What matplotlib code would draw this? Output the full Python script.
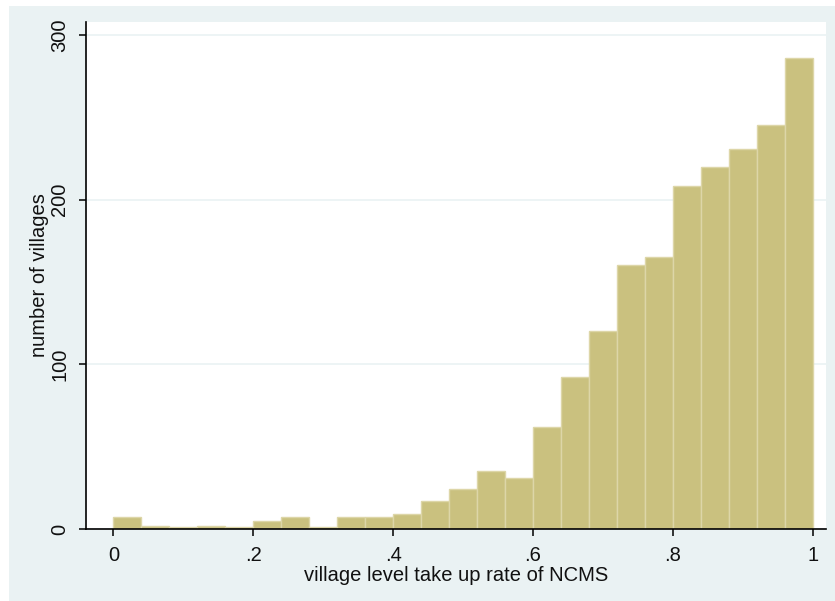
import matplotlib
matplotlib.use("Agg")
import matplotlib.pyplot as plt
from matplotlib.patches import Rectangle
import numpy as np

plt.rcParams['font.family'] = ['Liberation Sans', 'DejaVu Sans']

bin_edges = [i * 0.04 for i in range(26)]
counts = [7, 2, 1, 2, 1, 5, 7, 1, 7, 7, 9, 17, 24, 35, 31, 62, 92, 120,
          160, 165, 208, 220, 231, 245, 286]
yticks = [0, 100, 200, 300]
xticks = [0, 0.2, 0.4, 0.6, 0.8, 1.0]
xticklabels = ['0', '.2', '.4', '.6', '.8', '1']
xlabel = 'village level take up rate of NCMS'
ylabel = 'number of villages'

W, H = 835, 601
fig = plt.figure(figsize=(W / 100, H / 100), dpi=100)
fig.patch.set_facecolor('white')
fig.patches.append(Rectangle((9 / W, 0), 1 - 9 / W, 1 - 6 / H,
                             transform=fig.transFigure, facecolor='#EAF2F3',
                             edgecolor='none', zorder=-10))

ax = fig.add_axes([86 / W, 1 - 529 / H, (826 - 86) / W, (529 - 21.7) / H])
ax.set_zorder(1)
ax.set_facecolor('white')

widths = np.diff(bin_edges)
ax.bar(bin_edges[:-1], counts, width=widths, align='edge',
       color='#CAC17F', edgecolor='#DDD6A8', linewidth=1, zorder=3)

ax.set_xlim(-0.0393, 1.019)
ax.set_ylim(0, 308)

ax.set_yticks(yticks)
ax.set_yticklabels([str(v) for v in yticks], rotation=90, va='center')
ax.set_xticks(xticks)
ax.set_xticklabels(xticklabels)

ax.yaxis.grid(True, color='#EAF2F3', linewidth=1.2, zorder=0)
ax.set_axisbelow(True)

for s in ['top', 'right']:
    ax.spines[s].set_visible(False)
for s in ['left', 'bottom']:
    ax.spines[s].set_color('black')
    ax.spines[s].set_linewidth(1.2)
    ax.spines[s].set_zorder(5)

ax.tick_params(axis='both', direction='out', length=5, width=1.1,
               color='black', labelsize=14.5, labelcolor='#111111')
ax.tick_params(axis='x', pad=7)
ax.tick_params(axis='y', pad=7)

ax.set_xlabel(xlabel, fontsize=14.5, labelpad=1, color='#111111')
ax.set_ylabel(ylabel, fontsize=14.5, labelpad=1, color='#111111')

fig.savefig('out.png', dpi=100, facecolor=fig.get_facecolor())
